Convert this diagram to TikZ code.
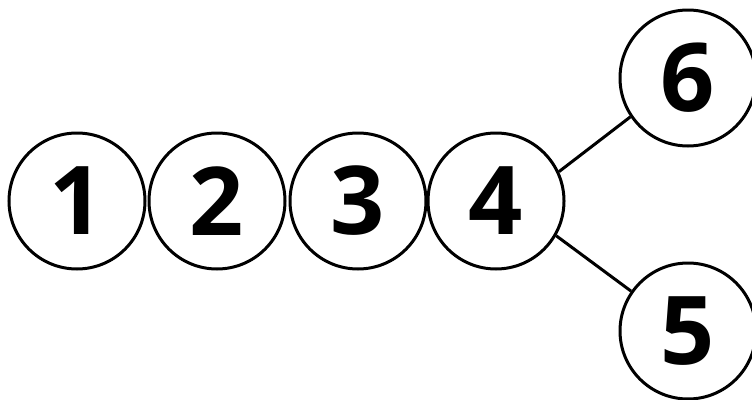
\documentclass[tikz,border=0pt]{standalone}
\usepackage{fontspec}
\setmainfont{Open Sans}
\begin{document}
\begin{tikzpicture}[x=1pt,y=-1pt,
  vert/.style={circle,draw,line width=3pt,minimum size=136pt,inner sep=0pt,font=\fontsize{95}{95}\selectfont\bfseries},
  edge/.style={line width=3pt}]
\useasboundingbox (0,0) rectangle (752,399);
\node[vert] (n1) at (77,201) {1};
\node[vert] (n2) at (217,201) {2};
\node[vert] (n3) at (358,201) {3};
\node[vert] (n4) at (496,201) {4};
\node[vert] (n6) at (688,78) {6};
\node[vert] (n5) at (688,331) {5};
\draw[edge] (n4.25) -- (n6.214);
\draw[edge] (n4.-30) -- (n5.145);
\end{tikzpicture}
\end{document}
